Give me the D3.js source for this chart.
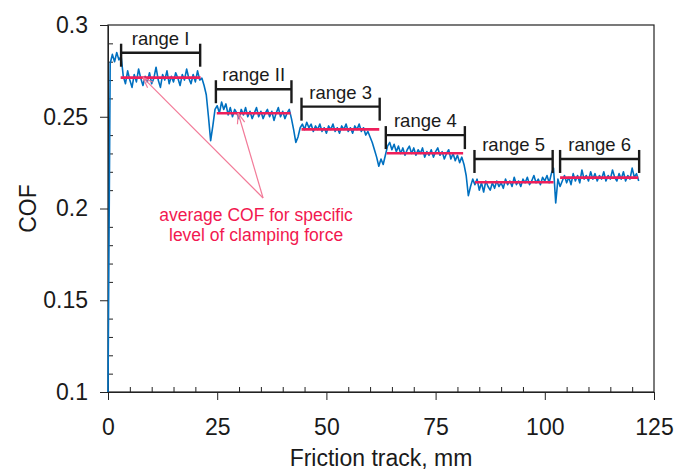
<!DOCTYPE html>
<html>
<head>
<meta charset="utf-8">
<script src="https://cdn.jsdelivr.net/npm/d3@7"></script>
<style>
  body { margin: 0; background: #fff; }
  svg text { font-family: Arial, "Liberation Sans", sans-serif; }
</style>
</head>
<body>
<div id="chart"></div>
<script>
// COF trace, one value every 0.5 mm of friction track
const trackStep = 0.5;
const cofValues = [
  0.100, 0.279, 0.284, 0.280, 0.285, 0.281, 0.283, 0.272, 0.268, 0.275,
  0.270, 0.266, 0.273, 0.269, 0.276, 0.271, 0.267, 0.272, 0.269, 0.274,
  0.268, 0.271, 0.277, 0.270, 0.266, 0.273, 0.270, 0.275, 0.268, 0.272,
  0.269, 0.274, 0.271, 0.267, 0.273, 0.270, 0.276, 0.271, 0.268, 0.273,
  0.269, 0.275, 0.270, 0.271, 0.267, 0.262, 0.250, 0.237, 0.245, 0.254,
  0.256, 0.252, 0.258, 0.254, 0.257, 0.251, 0.255, 0.250, 0.254, 0.252,
  0.249, 0.254, 0.251, 0.255, 0.250, 0.253, 0.249, 0.252, 0.255, 0.250,
  0.253, 0.249, 0.252, 0.254, 0.250, 0.253, 0.248, 0.252, 0.255, 0.250,
  0.253, 0.249, 0.252, 0.254, 0.249, 0.243, 0.236, 0.239, 0.244, 0.246,
  0.243, 0.247, 0.244, 0.246, 0.242, 0.245, 0.243, 0.246, 0.242, 0.244,
  0.241, 0.245, 0.243, 0.246, 0.242, 0.244, 0.241, 0.245, 0.243, 0.246,
  0.242, 0.244, 0.241, 0.245, 0.243, 0.246, 0.242, 0.244, 0.240, 0.242,
  0.239, 0.236, 0.232, 0.228, 0.223, 0.227, 0.224, 0.229, 0.234, 0.236,
  0.232, 0.235, 0.231, 0.234, 0.230, 0.233, 0.229, 0.232, 0.234, 0.230,
  0.233, 0.229, 0.232, 0.230, 0.233, 0.228, 0.231, 0.229, 0.232, 0.228,
  0.231, 0.233, 0.229, 0.231, 0.227, 0.230, 0.232, 0.227, 0.230, 0.226,
  0.229, 0.225, 0.228, 0.224, 0.218, 0.207, 0.212, 0.216, 0.213, 0.216,
  0.210, 0.214, 0.209, 0.215, 0.212, 0.210, 0.214, 0.211, 0.215, 0.212,
  0.214, 0.211, 0.216, 0.213, 0.215, 0.212, 0.217, 0.213, 0.215, 0.212,
  0.216, 0.214, 0.217, 0.213, 0.215, 0.218, 0.214, 0.216, 0.213, 0.217,
  0.215, 0.218, 0.214, 0.219, 0.222, 0.203, 0.216, 0.212, 0.215, 0.218,
  0.214, 0.217, 0.213, 0.219, 0.215, 0.218, 0.214, 0.221, 0.216, 0.218,
  0.215, 0.220, 0.216, 0.219, 0.215, 0.218, 0.216, 0.220, 0.215, 0.218,
  0.216, 0.221, 0.217, 0.215, 0.219, 0.216, 0.220, 0.215, 0.218, 0.216,
  0.222, 0.217, 0.219, 0.215
];

// clamping force ranges
const rangeLabels = ["range I", "range II", "range 3", "range 4", "range 5", "range 6"];
const rangeStart = [3.0, 24.7, 44.3, 63.6, 83.9, 103.5];
const rangeEnd = [21.1, 42.0, 62.2, 81.7, 101.8, 121.6];
const bracketCof = [0.2849, 0.2650, 0.2555, 0.2400, 0.2270, 0.2270];

// average COF per range (red lines)
const avgCof = [0.2713, 0.2519, 0.2431, 0.2301, 0.2143, 0.2168];
const avgStart = [2.9, 24.9, 44.3, 63.8, 84.0, 103.5];
const avgEnd = [21.2, 41.8, 62.1, 81.3, 102.0, 121.4];

// axes
const xTicks = [0, 25, 50, 75, 100, 125];
const yTicks = [0.1, 0.15, 0.2, 0.25, 0.3];
const yTickLabels = ["0.1", "0.15", "0.2", "0.25", "0.3"];

// annotation
const noteLines = ["average COF for specific", "level of clamping force"];
const noteAt = { x: 33.9, y: [0.1932, 0.1823] };
const arrowFrom = { x: 35.5, y: 0.2057 };
const arrowTips = [{ x: 8.0, y: 0.2713 }, { x: 29.8, y: 0.2519 }];

const width = 675, height = 471;
const margin = { top: 25, right: 21, bottom: 79, left: 108 };

const svg = d3.select("#chart").append("svg")
    .attr("width", width)
    .attr("height", height);

const xScale = d3.scaleLinear().domain([0, 125]).range([margin.left, width - margin.right]);
const yScale = d3.scaleLinear().domain([0.1, 0.3]).range([height - margin.bottom, margin.top]);

const axisColor = "#222";

// minor ticks point inward
const xMinor = d3.range(5, 125, 5).filter(v => v % 25 !== 0);
const yMinor = d3.range(11, 30).filter(v => v % 5 !== 0).map(v => v / 100);

svg.append("g")
    .attr("transform", `translate(0,${height - margin.bottom})`)
    .call(d3.axisBottom(xScale).tickValues(xMinor).tickSize(-5).tickSizeOuter(0).tickFormat(""))
    .call(g => g.select(".domain").remove())
    .selectAll("line").attr("stroke", axisColor);

svg.append("g")
    .attr("transform", `translate(${margin.left},0)`)
    .call(d3.axisLeft(yScale).tickValues(yMinor).tickSize(-5).tickSizeOuter(0).tickFormat(""))
    .call(g => g.select(".domain").remove())
    .selectAll("line").attr("stroke", axisColor);

// frame
svg.append("rect")
    .attr("x", margin.left)
    .attr("y", margin.top)
    .attr("width", width - margin.left - margin.right)
    .attr("height", height - margin.top - margin.bottom)
    .attr("fill", "none")
    .attr("stroke", axisColor)
    .attr("stroke-width", 1.2);

// major axes
const xAxis = svg.append("g")
    .attr("transform", `translate(0,${height - margin.bottom})`)
    .call(d3.axisBottom(xScale).tickValues(xTicks).tickSize(8).tickSizeOuter(0).tickPadding(19));
xAxis.select(".domain").attr("stroke", axisColor);
xAxis.selectAll("line").attr("stroke", axisColor);
xAxis.selectAll("text").attr("font-size", 23).attr("fill", "#1a1a1a")
    .style("font-family", "Arial, 'Liberation Sans', sans-serif");

const yAxis = svg.append("g")
    .attr("transform", `translate(${margin.left},0)`)
    .call(d3.axisLeft(yScale).tickValues(yTicks).tickSize(8).tickSizeOuter(0).tickPadding(12)
        .tickFormat((d, i) => yTickLabels[i]));
yAxis.select(".domain").attr("stroke", axisColor);
yAxis.selectAll("line").attr("stroke", axisColor);
yAxis.selectAll("text").attr("font-size", 23).attr("fill", "#1a1a1a")
    .style("font-family", "Arial, 'Liberation Sans', sans-serif");

// axis titles
svg.append("text")
    .attr("x", (margin.left + width - margin.right) / 2)
    .attr("y", 466)
    .attr("text-anchor", "middle")
    .attr("font-size", 23)
    .attr("fill", "#1a1a1a")
    .text("Friction track, mm");

svg.append("text")
    .attr("transform", `translate(36,${(margin.top + height - margin.bottom) / 2}) rotate(-90)`)
    .attr("text-anchor", "middle")
    .attr("font-size", 23)
    .attr("fill", "#1a1a1a")
    .text("COF");

// the COF trace
const line = d3.line()
    .x((d, i) => xScale(i * trackStep))
    .y(d => yScale(d));

svg.append("path")
    .datum(cofValues)
    .attr("fill", "none")
    .attr("stroke", "#0070c0")
    .attr("stroke-width", 1.6)
    .attr("stroke-linejoin", "round")
    .attr("d", line);

// average lines
avgCof.forEach((v, i) => {
    svg.append("line")
        .attr("x1", xScale(avgStart[i]))
        .attr("x2", xScale(avgEnd[i]))
        .attr("y1", yScale(v))
        .attr("y2", yScale(v))
        .attr("stroke", "#ee1f5b")
        .attr("stroke-width", 2.6);
});

// range brackets + labels
rangeLabels.forEach((label, i) => {
    const y = yScale(bracketCof[i]);
    const x1 = xScale(rangeStart[i]), x2 = xScale(rangeEnd[i]);
    const g = svg.append("g").attr("stroke", "#1a1a1a").attr("stroke-width", 2.4);
    g.append("line").attr("x1", x1).attr("x2", x2).attr("y1", y).attr("y2", y);
    g.append("line").attr("x1", x1).attr("x2", x1).attr("y1", y - 9).attr("y2", y + 14);
    g.append("line").attr("x1", x2).attr("x2", x2).attr("y1", y - 9).attr("y2", y + 14);

    svg.append("text")
        .attr("x", (x1 + x2) / 2)
        .attr("y", y - 8)
        .attr("text-anchor", "middle")
        .attr("font-size", 18.5)
        .attr("fill", "#1a1a1a")
        .text(label);
});

// annotation arrows
const noteColor = "#f2184f";
const arrowColor = "#f27a98";
arrowTips.forEach(t => {
    const x0 = xScale(arrowFrom.x), y0 = yScale(arrowFrom.y);
    const x1 = xScale(t.x), y1 = yScale(t.y);
    svg.append("line")
        .attr("x1", x0).attr("y1", y0).attr("x2", x1).attr("y2", y1)
        .attr("stroke", arrowColor).attr("stroke-width", 1.2);
    // open arrow head
    const ang = Math.atan2(y0 - y1, x0 - x1);
    [-0.35, 0.35].forEach(da => {
        svg.append("line")
            .attr("x1", x1).attr("y1", y1)
            .attr("x2", x1 + 11 * Math.cos(ang + da))
            .attr("y2", y1 + 11 * Math.sin(ang + da))
            .attr("stroke", arrowColor).attr("stroke-width", 1.2);
    });
});

noteLines.forEach((txt, i) => {
    svg.append("text")
        .attr("x", xScale(noteAt.x))
        .attr("y", yScale(noteAt.y[i]))
        .attr("text-anchor", "middle")
        .attr("font-size", 17.5)
        .attr("fill", noteColor)
        .text(txt);
});
</script>
</body>
</html>
